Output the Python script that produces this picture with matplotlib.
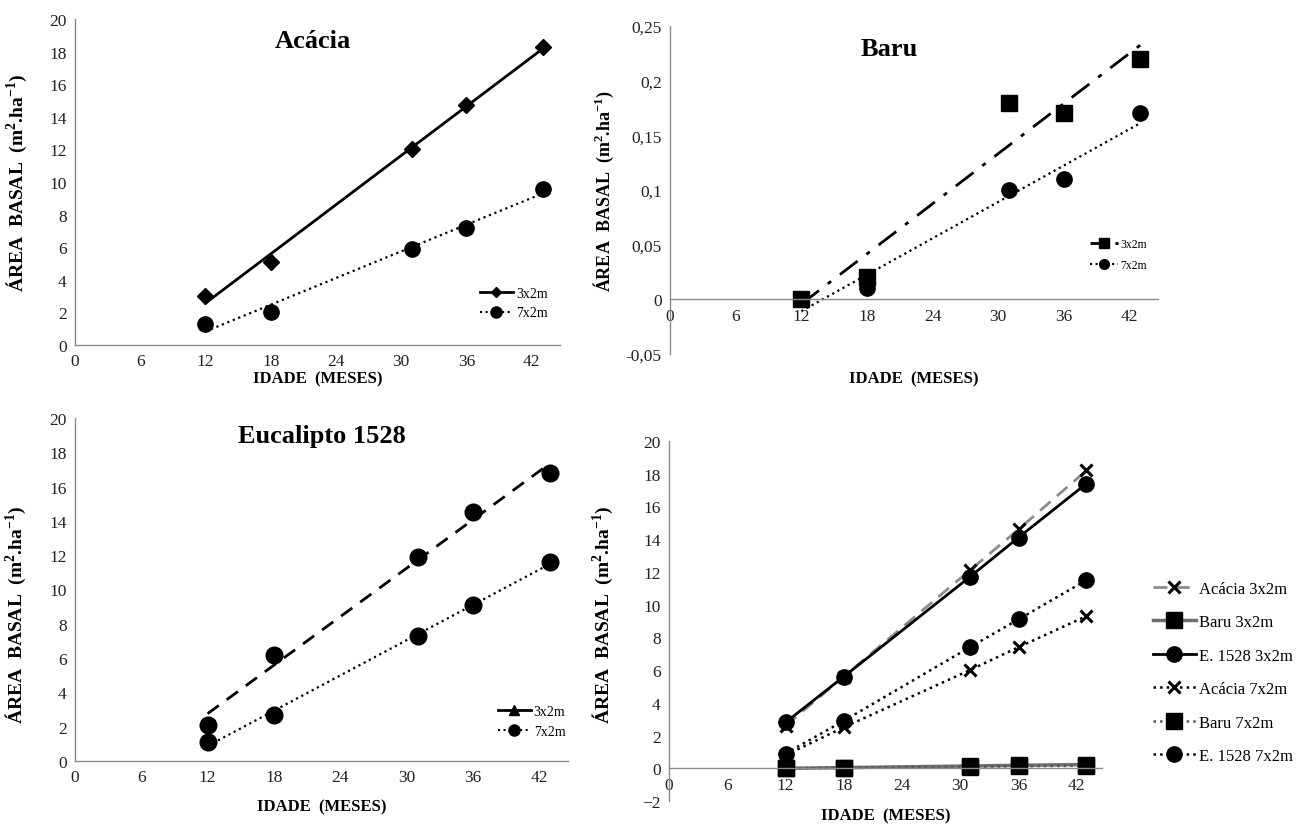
import matplotlib.pyplot as plt
import numpy as np
from matplotlib.lines import Line2D
from matplotlib.ticker import FuncFormatter, MultipleLocator

plt.rcParams['font.family'] = ['Liberation Serif', 'DejaVu Serif']
plt.rcParams['mathtext.fontset'] = 'custom'
plt.rcParams['mathtext.rm'] = 'Liberation Serif'
plt.rcParams['mathtext.bf'] = 'Liberation Serif:bold'
plt.rcParams['mathtext.it'] = 'Liberation Serif:italic'

# idade (meses)
idade = [12, 18, 31, 36, 43]
xticks = [0, 6, 12, 18, 24, 30, 36, 42]

# área basal (m2/ha)
acacia_3x2 = [3.0, 5.1, 12.0, 14.7, 18.3]
acacia_7x2 = [1.3, 2.0, 5.9, 7.2, 9.6]
baru_3x2 = [0.0, 0.02, 0.18, 0.17, 0.22]
baru_7x2 = [0.0, 0.01, 0.10, 0.11, 0.17]
euca_3x2 = [2.1, 6.2, 11.9, 14.5, 16.8]
euca_7x2 = [1.1, 2.7, 7.3, 9.1, 11.6]

# painel comparativo (valores estimados)
comp_acacia_3x2 = [2.6, 5.6, 12.1, 14.6, 18.2]
comp_baru_3x2 = [0.0, 0.04, 0.14, 0.18, 0.23]
comp_euca_3x2 = [2.8, 5.6, 11.7, 14.1, 17.4]
comp_acacia_7x2 = [0.8, 2.5, 6.0, 7.4, 9.3]
comp_baru_7x2 = [-0.01, 0.02, 0.09, 0.12, 0.16]
comp_euca_7x2 = [0.9, 2.9, 7.4, 9.1, 11.5]

ylab = r'ÁREA  BASAL  (m$^\mathbf{2}$.ha$^\mathbf{-1}$)'
xlab = 'IDADE  (MESES)'
W, H = 1313, 828
AX_COLOR = '#8a8a8a'


def px(l, t, r, b):
    # caixa em pixels -> coordenadas da figura
    return [l / W, 1 - b / H, (r - l) / W, (b - t) / H]


def estilo(ax, ylim, ystep, zero_axis=False):
    ax.set_xlim(0, 44.6)
    ax.set_ylim(*ylim)
    ax.set_xticks(xticks)
    ax.yaxis.set_major_locator(MultipleLocator(ystep))
    for s in ['top', 'right']:
        ax.spines[s].set_visible(False)
    for s in ['left', 'bottom']:
        ax.spines[s].set_color(AX_COLOR)
        ax.spines[s].set_linewidth(1.0)
    if zero_axis:
        ax.spines['bottom'].set_position(('data', 0))
    ax.tick_params(length=0, labelsize=12.5, colors='#222222', pad=6)
    ax.patch.set_alpha(0)


def tendencia(ax, x, y, **kw):
    a, b = np.polyfit(x, y, 1)
    xs = np.array([min(x), max(x)])
    ax.plot(xs, a * xs + b, **kw)


fig = plt.figure(figsize=(13.13, 8.28), dpi=100)

# ---------- Acácia ----------
ax1 = fig.add_axes(px(75, 20, 560, 346))
estilo(ax1, (0, 20), 2)
tendencia(ax1, idade, acacia_3x2, color='black', lw=2)
tendencia(ax1, idade, acacia_7x2, color='black', lw=1.6, ls=':')
ax1.plot(idade, acacia_3x2, 'D', color='black', ms=8, ls='none')
ax1.plot(idade, acacia_7x2, 'o', color='black', ms=11, ls='none')
ax1.text(0.49, 0.935, 'Acácia', transform=ax1.transAxes, ha='center', va='center',
         fontsize=19, fontweight='bold')
ax1.set_ylabel(ylab, fontsize=14, fontweight='bold')
ax1.yaxis.set_label_coords(-0.095, 0.5)
ax1.set_xlabel(xlab, fontsize=12, fontweight='bold')
ax1.xaxis.set_label_coords(0.5, -0.077)
h1 = [Line2D([], [], color='black', lw=2, marker='D', ms=5),
      Line2D([], [], color='black', lw=1.5, ls=':', marker='o', ms=8)]
ax1.legend(h1, ['3x2m', '7x2m'], loc='lower right', bbox_to_anchor=(1.0, 0.04),
           frameon=False, fontsize=10, handlelength=2.4, handletextpad=0.2,
           labelspacing=0.5)

# ---------- Baru ----------
ax2 = fig.add_axes(px(670, 27, 1158, 355))
estilo(ax2, (-0.05, 0.25), 0.05, zero_axis=True)
ax2.yaxis.set_major_formatter(FuncFormatter(lambda v, p: ('%g' % round(v, 2)).replace('.', ',')))
tendencia(ax2, idade, baru_3x2, color='black', lw=2, dashes=(8, 4, 1.5, 4))
tendencia(ax2, idade, baru_7x2, color='black', lw=1.6, ls=':')
ax2.plot(idade, baru_7x2, 'o', color='black', ms=11, ls='none')
ax2.plot(idade, baru_3x2, 's', color='black', ms=11, ls='none')
ax2.text(0.45, 0.93, 'Baru', transform=ax2.transAxes, ha='center', va='center',
         fontsize=19, fontweight='bold')
ax2.set_ylabel(ylab, fontsize=13, fontweight='bold')
ax2.yaxis.set_label_coords(-0.11, 0.5)
ax2.set_xlabel(xlab, fontsize=12, fontweight='bold')
ax2.xaxis.set_label_coords(0.5, -0.05)
h2 = [Line2D([], [], color='black', lw=2, dashes=(4, 2, 1, 2), marker='s', ms=7),
      Line2D([], [], color='black', lw=1.5, ls=':', marker='o', ms=7)]
ax2.legend(h2, ['3x2m', '7x2m'], loc='lower right', bbox_to_anchor=(1.0, 0.22),
           frameon=False, fontsize=8.5, handlelength=2.4, handletextpad=0.2,
           labelspacing=0.8)

# ---------- Eucalipto 1528 ----------
ax3 = fig.add_axes(px(75, 419, 568, 762))
estilo(ax3, (0, 20), 2)
tendencia(ax3, idade, euca_3x2, color='black', lw=2, dashes=(5, 3.5))
tendencia(ax3, idade, euca_7x2, color='black', lw=1.6, ls=':')
ax3.plot(idade, euca_3x2, 'o', color='black', ms=12, ls='none')
ax3.plot(idade, euca_7x2, 'o', color='black', ms=12, ls='none')
ax3.text(0.5, 0.95, 'Eucalipto 1528', transform=ax3.transAxes, ha='center', va='center',
         fontsize=19, fontweight='bold')
ax3.set_ylabel(ylab, fontsize=14, fontweight='bold')
ax3.yaxis.set_label_coords(-0.095, 0.43)
ax3.set_xlabel(xlab, fontsize=12, fontweight='bold')
ax3.xaxis.set_label_coords(0.5, -0.108)
h3 = [Line2D([], [], color='black', lw=2, marker='^', ms=7),
      Line2D([], [], color='black', lw=1.5, ls=':', marker='o', ms=8)]
ax3.legend(h3, ['3x2m', '7x2m'], loc='lower right', bbox_to_anchor=(1.02, 0.03),
           frameon=False, fontsize=10, handlelength=2.4, handletextpad=0.2,
           labelspacing=0.5)

# ---------- comparativo ----------
ax4 = fig.add_axes(px(669, 442, 1102, 802))
estilo(ax4, (-2, 20), 2, zero_axis=True)
l1, = ax4.plot(idade, comp_acacia_3x2, color='#8c8c8c', lw=2, dashes=(5, 3),
               marker='x', mec='black', ms=9, mew=2.2)
l2, = ax4.plot(idade, comp_baru_3x2, color='#6e6e6e', lw=2.5,
               marker='s', mec='black', mfc='black', ms=11)
l3, = ax4.plot(idade, comp_euca_3x2, color='black', lw=2,
               marker='o', mfc='black', ms=11)
l4, = ax4.plot(idade, comp_acacia_7x2, color='black', lw=1.8, ls=':',
               marker='x', mec='black', ms=9, mew=2.2)
l5, = ax4.plot(idade, comp_baru_7x2, color='#555555', lw=1.8, ls=':',
               marker='s', mfc='black', mec='black', ms=11)
l6, = ax4.plot(idade, comp_euca_7x2, color='black', lw=1.8, ls=':',
               marker='o', mfc='black', ms=11)
ax4.set_ylabel(ylab, fontsize=14, fontweight='bold')
ax4.yaxis.set_label_coords(-0.125, 0.52)
ax4.set_xlabel(xlab, fontsize=12, fontweight='bold')
ax4.xaxis.set_label_coords(0.5, -0.018)
fig.legend([l1, l2, l3, l4, l5, l6],
           ['Acácia 3x2m', 'Baru 3x2m', 'E. 1528 3x2m',
            'Acácia 7x2m', 'Baru 7x2m', 'E. 1528 7x2m'],
           loc='upper left', bbox_to_anchor=(1146 / W, 1 - 575 / H),
           frameon=False, fontsize=12, handlelength=2.6, handletextpad=0.2,
           labelspacing=1.05, borderaxespad=0)

fig.savefig('out.png', dpi=100)
